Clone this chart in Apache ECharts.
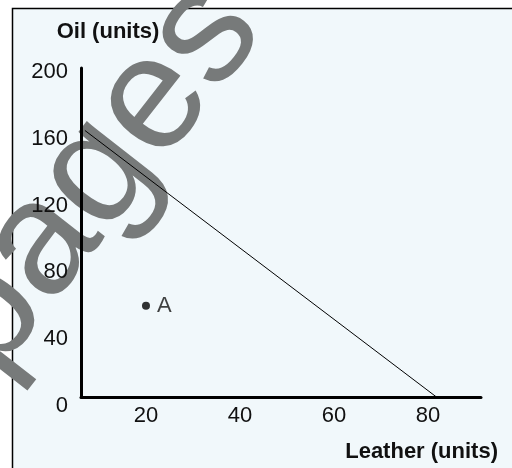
<!DOCTYPE html>
<html>
<head>
<meta charset="utf-8">
<script src="https://cdn.jsdelivr.net/npm/echarts@6/dist/echarts.min.js"></script>
<style>
  html, body { margin: 0; padding: 0; background: #fff; }
  #main { width: 512px; height: 468px; }
</style>
</head>
<body>
<div id="main"></div>
<script>
// tick labels
var xTicks = [20, 40, 60, 80];
var yTicks = [0, 40, 80, 120, 160, 200];
// the budget line (leather, oil) and point A
var lineX = [7, 82];
var lineY = [165, 5];
var pointX = [20];
var pointY = [60];
var pointNames = ['A'];

var FONT = '"Liberation Sans", Arial, Helvetica, sans-serif';

var myChart = echarts.init(document.getElementById('main'));

var lineData = [];
for (var i = 0; i < lineX.length; i++) {
    lineData.push([lineX[i], lineY[i]]);
}
var pointData = [];
for (var j = 0; j < pointX.length; j++) {
    pointData.push({ name: pointNames[j], value: [pointX[j], pointY[j]] });
}

var option = {
    backgroundColor: '#ffffff',
    animation: false,
    grid: [
        // scale grid: labels + data
        { left: 52, right: 31, top: 68, bottom: 62 },
        // axis lines only
        { left: 81, right: 31, top: 68, bottom: 71 }
    ],
    xAxis: [
        {
            gridIndex: 0, type: 'value', min: 0, max: 91.3, interval: 20,
            offset: -8,
            axisLine: { show: false }, axisTick: { show: false }, splitLine: { show: false },
            axisLabel: {
                margin: 7, fontSize: 22, color: '#111', fontFamily: FONT,
                formatter: function (v) { return xTicks.indexOf(v) >= 0 ? String(v) : ''; }
            }
        },
        {
            gridIndex: 1, type: 'value', min: 0, max: 1,
            axisLine: { show: true, lineStyle: { color: '#000', width: 3 } },
            axisTick: { show: false }, axisLabel: { show: false }, splitLine: { show: false }
        }
    ],
    yAxis: [
        {
            gridIndex: 0, type: 'value', min: 0, max: 202.4, interval: 40,
            offset: -24,
            axisLine: { show: false }, axisTick: { show: false }, splitLine: { show: false },
            axisLabel: {
                margin: 8, fontSize: 22, color: '#111', fontFamily: FONT,
                formatter: function (v) { return yTicks.indexOf(v) >= 0 ? String(v) : ''; }
            }
        },
        {
            gridIndex: 1, type: 'value', min: 0, max: 1,
            axisLine: { show: true, lineStyle: { color: '#000', width: 3 } },
            axisTick: { show: false }, axisLabel: { show: false }, splitLine: { show: false }
        }
    ],
    graphic: [
        {
            type: 'rect', z: -20, silent: true,
            shape: { x: 12.5, y: 8.5, width: 540, height: 500 },
            style: { fill: '#f1f8fb', stroke: '#000', lineWidth: 1.5 }
        },
        {
            type: 'text', z: -10, silent: true,
            x: 95, y: 177, rotation: 52 * Math.PI / 180,
            style: {
                text: 'pages', fontSize: 162, fontFamily: FONT,
                fill: '#777a7a', align: 'center', verticalAlign: 'middle'
            }
        },
        {
            type: 'text', z: 10, silent: true,
            x: 108, y: 32,
            style: {
                text: 'Oil (units)', fontSize: 22, fontWeight: 'bold', fontFamily: FONT,
                fill: '#111', align: 'center', verticalAlign: 'middle'
            }
        },
        {
            type: 'text', z: 10, silent: true,
            x: 498, y: 452,
            style: {
                text: 'Leather (units)', fontSize: 22, fontWeight: 'bold', fontFamily: FONT,
                fill: '#111', align: 'right', verticalAlign: 'middle'
            }
        }
    ],
    series: [
        {
            type: 'line', xAxisIndex: 0, yAxisIndex: 0,
            data: lineData, symbol: 'none',
            lineStyle: { color: '#000', width: 1 }
        },
        {
            type: 'scatter', xAxisIndex: 0, yAxisIndex: 0,
            data: pointData, symbolSize: 8,
            itemStyle: { color: '#000' },
            label: {
                show: true, position: 'right', distance: 7,
                formatter: '{b}', fontSize: 22, color: '#111', fontFamily: FONT
            }
        }
    ]
};
myChart.setOption(option);
</script>
</body>
</html>
